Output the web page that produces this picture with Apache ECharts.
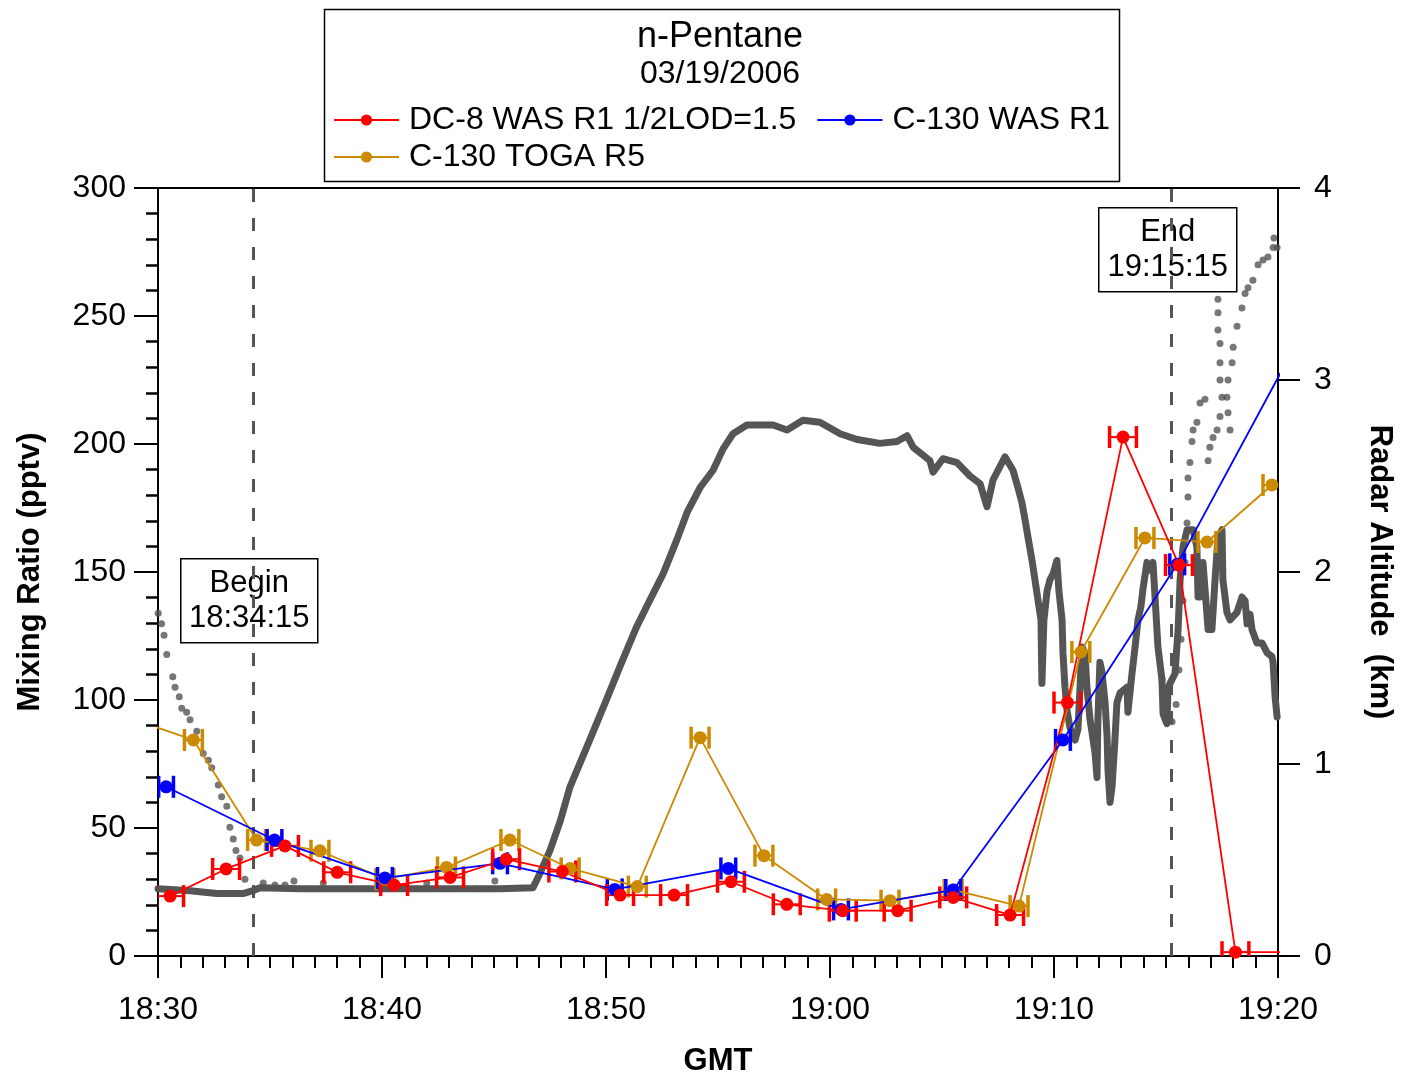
<!DOCTYPE html>
<html><head><meta charset="utf-8">
<script src="https://cdn.jsdelivr.net/npm/echarts@6/dist/echarts.min.js"></script>
<style>html,body{margin:0;padding:0;background:#fff}#c{width:1401px;height:1078px}</style>
</head><body><div id="c"></div><script>
// time values are minutes after 18:30 GMT
var xTickLabels = ['18:30','18:40','18:50','19:00','19:10','19:20'];
var chartTitle = 'n-Pentane';
var chartDate = '03/19/2006';
var seriesNames = ['DC-8 WAS R1 1/2LOD=1.5', 'C-130 WAS R1', 'C-130 TOGA R5'];
var markTimes = [4.25, 45.25];
var markTexts = ['Begin\n18:34:15', 'End\n19:15:15'];

// DC-8 WAS R1 (pptv)
var dc8Was = [[0.54,23.4],[3.04,34],[5.67,43],[8.0,32.7],[10.54,27.7],[13.04,30.7],[15.54,37.8],[18.05,33],
  [20.63,23.8],[23.04,23.8],[25.58,29],[28.07,20.2],[30.57,17.7],[33.02,17.7],[35.5,22.9],[38.04,16],
  [40.6,99],[43.08,202.7],[45.58,152.7],[48.1,1.5],[50.6,1.5]];
// C-130 WAS R1 (pptv)
var c130Was = [[0.36,66.1],[5.2,45.3],[10.13,30.5],[15.27,36.2],[20.39,26],[25.46,34.2],[30.49,18.2],
  [35.5,25.8],[40.4,84.4],[45.5,153],[50.5,234]];
// C-130 TOGA R5 (pptv)
var c130Toga = [[-1.3,93],[1.58,84.4],[4.4,45.3],[7.23,41.1],[10.13,30],[12.88,34.6],[15.71,45.3],[18.4,34.2],
  [21.4,27.1],[24.2,85.3],[27.05,39.2],[29.85,22.1],[32.68,21.6],[35.5,25.8],[38.44,19.5],[41.2,118.75],
  [44.06,163.3],[46.83,161.7],[49.73,184]];
// sample half-durations (minutes)
var dc8HalfDur = 0.6, wasHalfDur = 0.33, togaHalfDur = 0.4;

// C-130 radar altitude (km)
var altC130 = [[0,0.35],[1.43,0.34],[2.63,0.325],[3.79,0.325],[4.24,0.34],[4.55,0.355],[6.34,0.35],[10.8,0.35],
  [15.27,0.35],[16.74,0.355],[17.05,0.43],[17.5,0.55],[17.95,0.7],[18.39,0.88],[19.29,1.13],[20.04,1.34],
  [20.63,1.51],[21.37,1.715],[21.96,1.854],[22.55,1.99],[23.17,2.17],[23.62,2.31],[24.2,2.44],[24.78,2.53],
  [25.22,2.64],[25.67,2.72],[26.29,2.766],[27.46,2.766],[28.08,2.74],[28.79,2.79],[29.55,2.78],[30.45,2.72],
  [31.21,2.69],[32.23,2.67],[32.99,2.68],[33.44,2.71],[33.71,2.65],[34.46,2.58],[34.6,2.52],[35.04,2.59],
  [35.67,2.57],[36.25,2.5],[36.7,2.46],[37.01,2.34],[37.28,2.48],[37.81,2.6],[38.17,2.53],[38.39,2.44],
  [38.57,2.36],[38.71,2.27],[38.84,2.18],[39.02,2.06],[39.15,1.96],[39.29,1.85],[39.42,1.75],[39.46,1.42],
  [39.55,1.75],[39.69,1.9],[39.82,1.96],[39.96,1.99],[40.13,2.06],[40.22,1.9],[40.36,1.75],[40.4,1.58],
  [40.49,1.4],[40.58,1.28],[40.71,1.19],[40.94,1.125],[41.07,1.18],[41.25,1.61],[41.38,1.58],[41.47,1.4],
  [41.61,1.23],[41.83,1.06],[41.92,0.93],[41.96,1.23],[42.05,1.53],[42.14,1.48],[42.28,1.32],[42.37,1.14],
  [42.41,0.97],[42.5,0.8],[42.59,0.88],[42.72,1.125],[42.81,1.32],[42.95,1.37],[43.26,1.4],[43.3,1.27],
  [43.48,1.47],[43.62,1.61],[43.75,1.75],[43.88,1.82],[43.97,1.91],[44.15,2.05],[44.29,2.01],[44.42,2.05],
  [44.51,1.87],[44.64,1.61],[44.82,1.44],[44.87,1.26],[45.04,1.21],[45.09,1.39],[45.18,1.42],[45.4,1.47],
  [45.54,1.7],[45.63,1.96],[45.76,2.13],[45.94,2.22],[46.21,2.22],[46.38,2.13],[46.43,1.87],[46.52,1.87],
  [46.65,2.05],[46.88,1.7],[47.05,1.7],[47.19,1.96],[47.32,2.18],[47.5,2.22],[47.54,1.96],[47.72,1.79],
  [47.86,1.75],[48.17,1.79],[48.39,1.87],[48.53,1.85],[48.62,1.73],[48.75,1.78],[48.84,1.7],[49.06,1.63],
  [49.29,1.63],[49.51,1.58],[49.73,1.56],[49.78,1.53],[49.87,1.35],[49.96,1.245]];
// DC-8 radar altitude (km), sparse readings
var altDc8 = [[0.01,1.785],[0.16,1.73],[0.27,1.67],[0.39,1.57],[0.66,1.455],[0.76,1.4],[0.95,1.35],[1.06,1.29],
  [1.28,1.27],[1.43,1.23],[1.73,1.17],[2.02,1.055],[2.25,1.02],[2.4,0.98],[2.69,0.89],[2.84,0.83],[3.07,0.78],
  [3.21,0.67],[3.36,0.61],[3.48,0.55],[3.66,0.51],[3.88,0.4],[4.7,0.38],[5.22,0.37],[5.67,0.37],[6.07,0.39],
  [7.38,0.38],[12.0,0.38],[15.04,0.39],
  [44.82,1.44],[45.0,1.27],[45.27,1.22],[45.45,1.31],[45.58,1.49],[45.67,1.65],[45.76,1.85],[45.85,2.05],
  [45.94,2.255],[45.98,2.39],[45.98,2.49],[46.07,2.57],[46.16,2.68],[46.21,2.74],[46.38,2.78],[46.52,2.88],
  [46.74,2.9],[46.88,2.58],[46.96,2.65],[47.1,2.7],[47.28,2.74],[47.41,2.81],[47.5,2.91],[47.41,3.0],
  [47.41,3.09],[47.41,3.19],[47.32,3.26],[47.32,3.35],[47.32,3.42],[47.86,2.74],[47.77,2.83],[47.72,2.91],
  [47.77,3.0],[47.95,3.09],[48.0,3.17],[48.17,3.28],[48.39,3.375],[48.53,3.45],[48.66,3.48],[48.88,3.52],
  [49.11,3.6],[49.33,3.625],[49.55,3.64],[49.78,3.69],[49.96,3.69],[49.82,3.74]];

var FONT = 'Liberation Sans, Arial, sans-serif';
var RED = '#ff0000', BLUE = '#0000ff', GOLD = '#cc8a00', GREY = '#555555';

function inRange(d){ return d.filter(function(p){ return p[0] >= 0 && p[0] <= 50; }); }

function errBars(name, data, hw, color){
  return {
    type: 'custom', name: name + ' range', xAxisIndex: 0, yAxisIndex: 0, z: 4, silent: true, clip: true,
    data: inRange(data),
    encode: { x: 0, y: 1 },
    renderItem: function(params, api){
      var t = api.value(0), v = api.value(1);
      var a = api.coord([t - hw, v]), b = api.coord([t + hw, v]);
      var c = 11;
      return { type: 'group', children: [
        { type: 'line', shape: { x1: a[0], y1: a[1], x2: b[0], y2: b[1] }, style: { stroke: color, lineWidth: 2 } },
        { type: 'line', shape: { x1: a[0], y1: a[1]-c, x2: a[0], y2: a[1]+c }, style: { stroke: color, lineWidth: 3.5 } },
        { type: 'line', shape: { x1: b[0], y1: b[1]-c, x2: b[0], y2: b[1]+c }, style: { stroke: color, lineWidth: 3.5 } }
      ]};
    }
  };
}
function lineSeries(name, data, color){
  return { type: 'line', name: name, data: data, xAxisIndex: 0, yAxisIndex: 0, z: 5,
    symbol: 'circle', symbolSize: 13, showAllSymbol: true,
    lineStyle: { color: color, width: 1.8 }, itemStyle: { color: color } };
}
var legendText = { fontFamily: FONT, fontSize: 32, color: '#000', padding: [0,0,0,5] };

var chart = echarts.init(document.getElementById('c'), null, { renderer: 'canvas' });
var axisBlack = { lineStyle: { color: '#000', width: 2 } };
chart.setOption({
  animation: false,
  textStyle: { fontFamily: FONT },
  grid: { left: 158, right: 123, top: 188, bottom: 122, show: true, borderColor: '#000', borderWidth: 2,
    containLabel: false, outerBoundsMode: 'none' },
  legend: [{
    data: [seriesNames[0], seriesNames[1]], left: 333, top: 104, padding: 0, itemGap: 20, itemWidth: 65, itemHeight: 14,
    orient: 'horizontal', align: 'left', textStyle: legendText
  }, {
    data: [seriesNames[2]], left: 333, top: 141, padding: 0, itemGap: 20, itemWidth: 65, itemHeight: 14,
    orient: 'horizontal', align: 'left', textStyle: legendText
  }],
  xAxis: {
    type: 'value', min: 0, max: 50, interval: 10,
    name: 'GMT', nameLocation: 'middle', nameGap: 90,
    nameTextStyle: { fontFamily: FONT, fontSize: 31, fontWeight: 'bold', color: '#000' },
    axisLine: axisBlack, splitLine: { show: false },
    axisTick: { inside: false, length: 22, lineStyle: { color: '#000', width: 2 } },
    minorTick: { show: true, splitNumber: 10, length: 12, lineStyle: { color: '#000', width: 2 } },
    axisLabel: { margin: 38, fontSize: 32, fontFamily: FONT, color: '#000',
      formatter: function(v){ return xTickLabels[Math.round(v/10)]; } }
  },
  yAxis: [{
    type: 'value', min: 0, max: 300, interval: 50, position: 'left',
    name: 'Mixing Ratio (pptv)', nameLocation: 'middle', nameGap: 112, nameRotate: 90,
    nameTextStyle: { fontFamily: FONT, fontSize: 31, fontWeight: 'bold', color: '#000' },
    axisLine: { show: true, lineStyle: { color: '#000', width: 2 } }, splitLine: { show: false },
    axisTick: { show: true, inside: false, length: 24, lineStyle: { color: '#000', width: 2 } },
    minorTick: { show: true, splitNumber: 5, length: 12, lineStyle: { color: '#000', width: 2.5 } },
    axisLabel: { margin: 32, fontSize: 32, fontFamily: FONT, color: '#000' }
  }, {
    type: 'value', min: 0, max: 4, interval: 1, position: 'right',
    name: 'Radar Altitude  (km)', nameLocation: 'middle', nameGap: 86, nameRotate: -90,
    nameTextStyle: { fontFamily: FONT, fontSize: 31, fontWeight: 'bold', color: '#000' },
    axisLine: { show: true, lineStyle: { color: '#000', width: 2 } }, splitLine: { show: false },
    axisTick: { show: true, inside: false, length: 22, lineStyle: { color: '#000', width: 2 } },
    axisLabel: { margin: 36, fontSize: 32, fontFamily: FONT, color: '#000' }
  }],
  series: [
    { type: 'line', name: 'C-130 Radar Altitude', data: altC130, xAxisIndex: 0, yAxisIndex: 1, z: 2,
      symbol: 'none', lineStyle: { color: GREY, width: 7, join: 'round', cap: 'round' }, silent: true,
      markLine: { silent: true, symbol: 'none', label: { show: false },
        lineStyle: { color: GREY, width: 3, type: [13, 16] },
        data: markTimes.map(function(t){ return { xAxis: t }; }) } },
    { type: 'scatter', name: 'DC-8 Radar Altitude', data: altDc8, xAxisIndex: 0, yAxisIndex: 1, z: 2,
      symbolSize: 7, itemStyle: { color: GREY }, silent: true },
    lineSeries(seriesNames[2], c130Toga, GOLD),
    errBars(seriesNames[2], c130Toga, togaHalfDur, GOLD),
    lineSeries(seriesNames[1], c130Was, BLUE),
    errBars(seriesNames[1], c130Was, wasHalfDur, BLUE),
    lineSeries(seriesNames[0], dc8Was, RED),
    errBars(seriesNames[0], dc8Was, dc8HalfDur, RED)
  ],
  graphic: [
    { type: 'rect', left: 322, top: 7, shape: { width: 795, height: 172 }, z: 0,
      style: { fill: 'none', stroke: '#000', lineWidth: 1.5 } },
    { type: 'text', x: 720, y: 37, z: 10, style: { text: chartTitle, font: '36px ' + FONT, fill: '#000',
      textAlign: 'center', textVerticalAlign: 'middle' } },
    { type: 'text', x: 720, y: 74, z: 10, style: { text: chartDate, font: '32px ' + FONT, fill: '#000',
      textAlign: 'center', textVerticalAlign: 'middle' } },
    { type: 'group', left: 180, top: 558, z: 100, children: [
      { type: 'rect', shape: { x: 0, y: 0, width: 137, height: 84 }, style: { fill: '#fff', stroke: '#000', lineWidth: 1.5 } },
      { type: 'text', x: 68.5, y: 42, style: { text: markTexts[0], font: '31px ' + FONT, fill: '#000',
        textAlign: 'center', textVerticalAlign: 'middle', lineHeight: 35 } } ] },
    { type: 'group', left: 1098, top: 207, z: 100, children: [
      { type: 'rect', shape: { x: 0, y: 0, width: 138, height: 84 }, style: { fill: '#fff', stroke: '#000', lineWidth: 1.5 } },
      { type: 'text', x: 69, y: 42, style: { text: markTexts[1], font: '31px ' + FONT, fill: '#000',
        textAlign: 'center', textVerticalAlign: 'middle', lineHeight: 35 } } ] }
  ]
});
</script></body></html>
